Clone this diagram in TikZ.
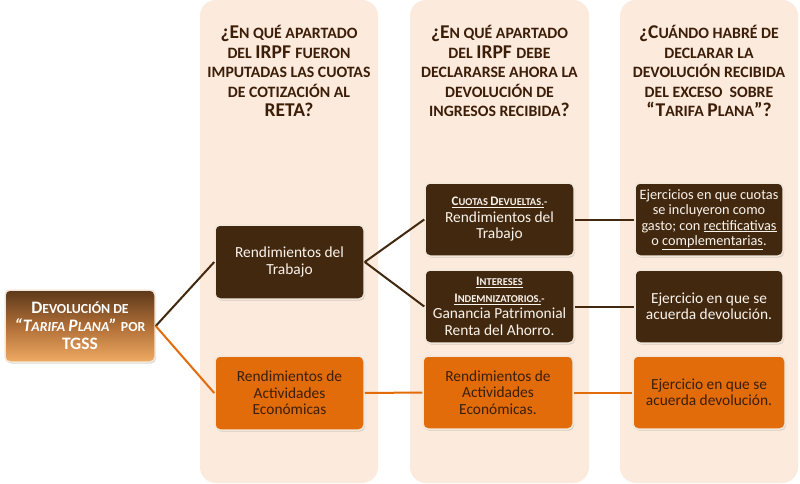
\documentclass[tikz,border=0pt]{standalone}
\usepackage{fontspec}
\setmainfont{Carlito}
\usetikzlibrary{shadows}
\definecolor{colbg}{RGB}{252,234,221}
\definecolor{dkbr}{RGB}{67,40,16}
\definecolor{org}{RGB}{227,108,10}
\definecolor{htext}{RGB}{60,30,8}
\definecolor{bord}{RGB}{242,232,218}
\definecolor{rtop}{RGB}{92,56,26}
\definecolor{rmid}{RGB}{175,110,55}
\definecolor{rbot}{RGB}{240,170,100}
\definecolor{ltext}{RGB}{250,244,236}
\newcommand\hb{\fontsize{19.5}{19.5}\selectfont}
\newcommand\hs{\fontsize{15.8}{19.5}\selectfont}
\newcommand\rb{\fontsize{17.5}{18}\selectfont}
\newcommand\rs{\fontsize{13.8}{18}\selectfont}
\newcommand\bb{\fontsize{13}{16}\selectfont}
\newcommand\bs{\fontsize{10.5}{16}\selectfont}
\newcommand\bt{\fontsize{15.4}{16.5}\selectfont}
\newcommand\bu{\fontsize{14.3}{15.5}\selectfont}
\begin{document}
\begin{tikzpicture}[x=1pt,y=-1pt,
  col/.style={fill=colbg, rounded corners=16pt},
  hdr/.style={align=center, text=htext, font=\bfseries\hs},
  box/.style={draw=bord, line width=1.5pt, rounded corners=5pt, align=center, inner sep=0pt,
    drop shadow={opacity=0.3, shadow xshift=1pt, shadow yshift=-1.5pt}},
  dbox/.style={box, fill=dkbr, text=ltext},
  obox/.style={box, fill=org, text=htext},
  dl/.style={draw=dkbr, line width=2pt},
  ol/.style={draw=org, line width=2pt}]
\useasboundingbox (0,0) rectangle (800,484);
\fill[white] (0,0) rectangle (800,484);
% columns
\path[col] (200,0) rectangle (378,483);
\path[col] (410,0) rectangle (589,483);
\path[col] (620,0) rectangle (798,483);
% headers
\node[hdr] (h1) at (289,71) {\hb¿E\hs N QUÉ APARTADO\\ \hs DEL \hb IRPF \hs FUERON\\ \hs IMPUTADAS LAS CUOTAS\\ \hs DE COTIZACIÓN AL\\ \hb RETA?};
\node[hdr] (h2) at (499.5,71) {\hb¿E\hs N QUÉ APARTADO\\ \hs DEL \hb IRPF \hs DEBE\\ \hs DECLARARSE AHORA LA\\ \hs DEVOLUCIÓN DE\\ \hs INGRESOS RECIBIDA\hb ?};
\node[hdr] (h3) at (709,71) {\hb¿C\hs UÁNDO HABRÉ DE\\ \hs DECLARAR LA\\ \hs DEVOLUCIÓN RECIBIDA\\ \hs DEL EXCESO \ SOBRE\\ \hb “T\hs ARIFA \hb P\hs LANA\hb ”?};
% root
\node[box, top color=rtop, bottom color=rbot, middle color=rmid, text=white, minimum width=150pt, minimum height=72pt, font=\bfseries\rs] (root) at (80,326)
  {\rb D\rs EVOLUCIÓN DE\\ \itshape\rb “T\rs ARIFA \rb P\rs LANA\rb ” \upshape\rs POR\\ \rb TGSS};
% column 1
\node[dbox, minimum width=149pt, minimum height=74pt, font=\bt] (trab) at (289.5,262) {Rendimientos del\\ Trabajo};
\node[obox, minimum width=149pt, minimum height=74pt, font=\bt] (act) at (289.5,393) {Rendimientos de\\ Actividades\\ Económicas};
% column 2
\node[dbox, minimum width=149pt, minimum height=73pt, font=\bt] (cuo) at (499.5,219.5)
  {\bfseries\underline{\bb C\bs UOTAS \bb D\bs EVUELTAS.}\bs -\\ \mdseries\bt Rendimientos del\\ \bt Trabajo};
\node[dbox, minimum width=149pt, minimum height=73pt, font=\bt] (int) at (499.5,306.5)
  {\bfseries\underline{\bb I\bs NTERESES}\\ \bfseries\underline{\bb I\bs NDEMNIZATORIOS.}\bs -\\ \mdseries\bt Ganancia Patrimonial\\ \bt Renta del Ahorro.};
\node[obox, minimum width=150pt, minimum height=73pt, font=\bt] (act2) at (498,392.5) {Rendimientos de\\ Actividades\\ Económicas.};
% column 3
\node[dbox, minimum width=148pt, minimum height=73pt, font=\bu] (ej1) at (709,219.5)
  {Ejercicios en que cuotas\\ se incluyeron como\\ gasto; con \underline{rectificativas}\\ o \underline{complementarias}.};
\node[dbox, minimum width=148pt, minimum height=73pt, font=\bt] (ej2) at (709,306.5) {Ejercicio en que se\\ acuerda devolución.};
\node[obox, minimum width=152pt, minimum height=73pt, font=\bt] (ej3) at (709,392.5) {Ejercicio en que se\\ acuerda devolución.};
% connectors
\draw[dl] (root.east) -- (trab.west);
\draw[ol] (root.east) -- (act.west);
\draw[dl] (trab.east) -- (cuo.west);
\draw[dl] (trab.east) -- (int.west);
\draw[ol] (act.east) -- (act2.west);
\draw[dl] (cuo.east) -- (ej1.west);
\draw[dl] (int.east) -- (ej2.west);
\draw[ol] (act2.east) -- (ej3.west);
\end{tikzpicture}
\end{document}
